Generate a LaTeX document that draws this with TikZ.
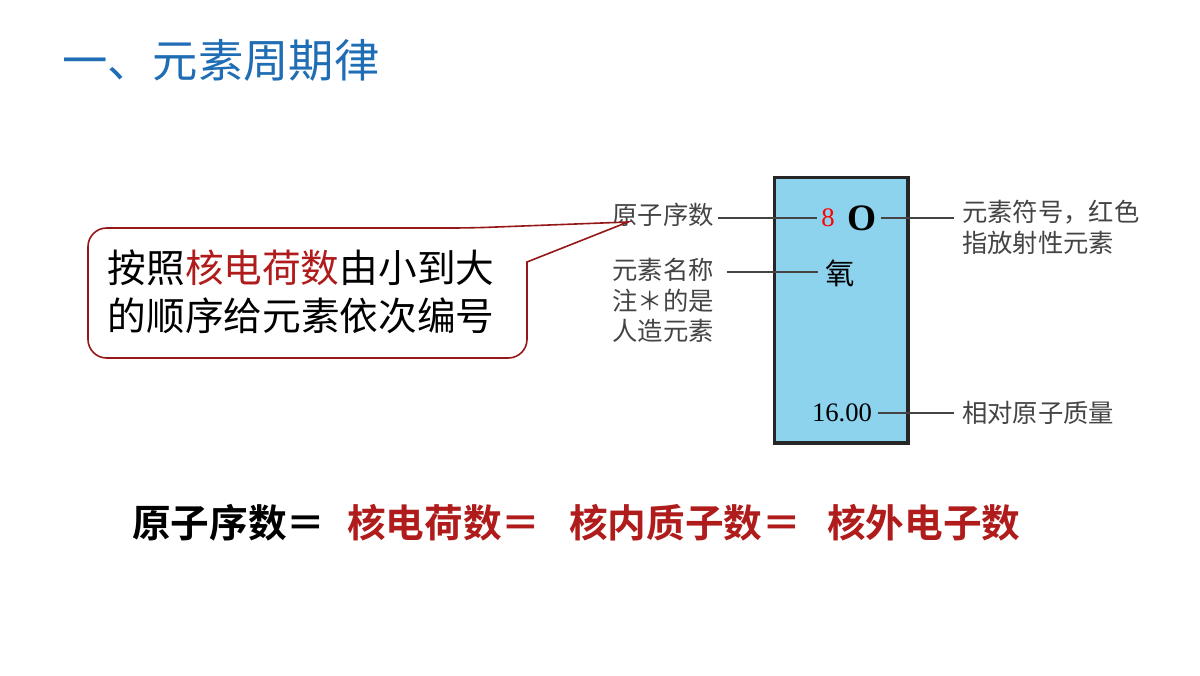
\documentclass[tikz,border=0pt]{standalone}
\usepackage{fontspec}
\setmainfont{Liberation Serif}
\newfontfamily\cjk{Noto Sans CJK SC}
\newfontfamily\cjkb{Noto Sans CJK SC Bold}
\definecolor{tblue}{HTML}{1F6DB4}
\definecolor{dred}{HTML}{B01B1B}
\definecolor{boxblue}{HTML}{8DD3EE}
\definecolor{lgray}{HTML}{444444}
\begin{document}
\begin{tikzpicture}[x=0.75pt,y=-0.75pt,
  lab/.style={font=\cjk\fontsize{19pt}{24pt}\selectfont,text=lgray,inner sep=0pt,align=left},
  eq/.style={font=\cjkb\fontsize{29pt}{34pt}\selectfont,inner sep=0pt,anchor=west},
  ln/.style={line width=1.5pt,lgray}]
\useasboundingbox[fill=white] (0,0) rectangle (1200,675);
\node[font=\cjk\fontsize{34pt}{38pt}\selectfont,text=tblue,anchor=west,inner sep=0pt] (title) at (62,60) {一、元素周期律};
% element box
\node[draw=black!85,line width=2.5pt,fill=boxblue,minimum width=100pt,minimum height=199pt,inner sep=0pt,anchor=north west] (box) at (773,176) {};
\node[text=red,font=\fontsize{20pt}{24pt}\selectfont,inner sep=0pt] (z) at (828,218) {8};
\node[font=\bfseries\fontsize{28pt}{30pt}\selectfont,inner sep=0pt] (sym) at (862,218) {O};
\node[font=\cjk\fontsize{22pt}{26pt}\selectfont,inner sep=0pt] (name) at (840,273) {氧};
\node[font=\fontsize{20pt}{24pt}\selectfont,inner sep=0pt] (mass) at (842,413) {16.00};
% left labels
\node[lab] (l1) at (663,215) {原子序数};
\node[lab,anchor=north] (l2) at (663,258) {元素名称\\[-1pt]注＊的是\\[-1pt]人造元素};
\coordinate (l2e) at (727,272);
\draw[ln] ([xshift=3]l1.east |- z) -- ([xshift=-3]z.west);
\draw[ln] (l2e) -- ([xshift=-5]name.west |- l2e);
% right labels
\node[lab,anchor=north west] (r1) at (962,200) {元素符号，红色\\[-1pt]指放射性元素};
\node[lab,anchor=west] (r2) at (962,413) {相对原子质量};
\draw[ln] ([xshift=3]sym.east) -- ([xshift=-6]r1.west |- sym);
\draw[ln] ([xshift=4]mass.east) -- ([xshift=-6]r2.west);
% callout
\coordinate (tip) at (628,222);
\draw[dred!85!black,line width=1.2pt,fill=white,rounded corners=14pt]
  (88,228) -- (470,228) [sharp corners] -- (tip) -- (527,262) [rounded corners=14pt] -- (527,358) -- (88,358) -- cycle;
\node[font=\cjk\fontsize{29pt}{36pt}\selectfont,align=left,inner sep=0pt] (call) at (301,292) {按照\textcolor{dred}{核电荷数}由小到大\\的顺序给元素依次编号};
% equation
\node[eq] (e1) at (132,523) {原子序数＝};
\node[eq,text=dred] (e2) at (347,523) {核电荷数＝};
\node[eq,text=dred] (e3) at (569,523) {核内质子数＝};
\node[eq,text=dred] (e4) at (827,523) {核外电子数};
\end{tikzpicture}
\end{document}
